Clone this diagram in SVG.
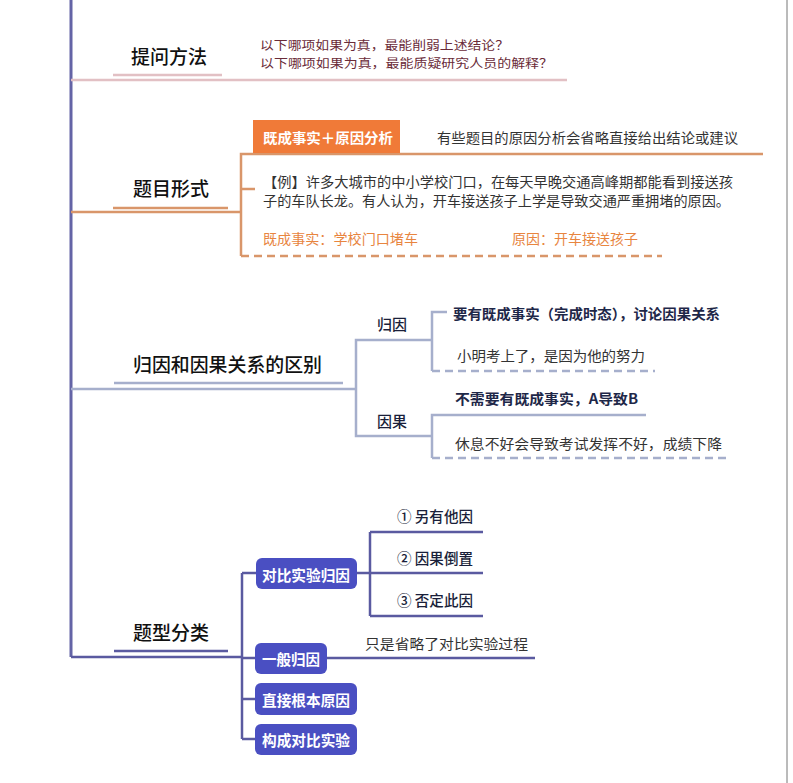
<svg xmlns="http://www.w3.org/2000/svg" width="793" height="783" viewBox="0 0 793 783">
<style>
text{font-family:"Noto Sans CJK SC","Noto Sans",sans-serif;dominant-baseline:central}
.title{font-size:19px;font-weight:500;fill:#111}
.note{font-size:14px;fill:#333}
.q{font-size:12px;fill:#6a2b38}
.or{font-size:14px;fill:#e8853f}
.bold{font-size:14px;font-weight:700;fill:#1e2748}
.sub{font-size:15px;font-weight:500;fill:#1a1f3a}
.nodet{font-size:15px;font-weight:700;fill:#fff}
.node{fill:#4a4fc2}
.pk{stroke:#e2c0c4;stroke-width:2.5;fill:none}
.orl{stroke:#d9966a;stroke-width:2.5;fill:none}
.bl{stroke:#a6afcc;stroke-width:2.5;fill:none}
.dk{stroke:#5a5aa0;stroke-width:2.5;fill:none}
.dash{stroke-dasharray:8 5}
</style>
<rect width="793" height="783" fill="#fff"/>
<g id="connectors">
  <line x1="787" y1="0" x2="787" y2="783" stroke="#777" stroke-width="1"/>
  <line x1="71" y1="0" x2="71" y2="657" stroke="#6464a6" stroke-width="3"/>
  <line class="pk" x1="113" y1="75" x2="222" y2="75" stroke="#d4b4b6"/>
  <line class="pk" x1="71" y1="80" x2="567" y2="80"/>
  <line class="orl" x1="113" y1="208" x2="228" y2="208"/>
  <line class="orl" x1="71" y1="212" x2="241" y2="212"/>
  <polyline class="orl" points="763,154 241,154 241,256"/>
  <line class="orl" x1="241" y1="189" x2="255" y2="189"/>
  <line class="orl dash" x1="241" y1="256" x2="662" y2="256"/>
  <line class="bl" x1="114" y1="383" x2="343" y2="383" stroke="#a9b3c4"/>
  <line class="bl" x1="71" y1="389" x2="356" y2="389"/>
  <polyline class="bl" points="432,340 356,340 356,436 432,436"/>
  <polyline class="bl" points="447,312 432,312 432,371"/>
  <line class="bl dash" x1="432" y1="371" x2="655" y2="371"/>
  <polyline class="bl" points="646,415 432,415 432,458"/>
  <line class="bl dash" x1="432" y1="458" x2="731" y2="458"/>
  <line class="dk" x1="114" y1="651" x2="228" y2="651"/>
  <line class="dk" x1="71" y1="657" x2="242" y2="657"/>
  <line class="dk" x1="242" y1="573" x2="242" y2="739"/>
  <line class="dk" x1="242" y1="573" x2="256" y2="573"/>
  <line class="dk" x1="242" y1="658" x2="256" y2="658"/>
  <line class="dk" x1="242" y1="699" x2="256" y2="699"/>
  <line class="dk" x1="242" y1="739" x2="256" y2="739"/>
  <line class="dk" x1="357" y1="573" x2="370" y2="573"/>
  <line class="dk" x1="370" y1="532" x2="370" y2="616"/>
  <line class="dk" x1="370" y1="532" x2="483" y2="532"/>
  <line class="dk" x1="370" y1="573" x2="483" y2="573"/>
  <line class="dk" x1="370" y1="616" x2="483" y2="616"/>
  <line class="dk" x1="327" y1="658" x2="535" y2="658"/>
</g>
<g id="n-tiwen">
  <text class="title" x="131" y="55">提问方法</text>
  <text class="q" x="260" y="44" textLength="249" lengthAdjust="spacingAndGlyphs">以下哪项如果为真，最能削弱上述结论？</text>
  <text class="q" x="260" y="62" textLength="293" lengthAdjust="spacingAndGlyphs">以下哪项如果为真，最能质疑研究人员的解释？</text>
</g>
<g id="n-timu">
  <text class="title" x="133" y="187">题目形式</text>
</g>
<g id="n-jicheng">
  <rect x="253" y="120" width="147" height="33" fill="#f07a38"/>
  <text x="263" y="137" font-size="14" font-weight="700" fill="#fff" textLength="130" lengthAdjust="spacingAndGlyphs">既成事实＋原因分析</text>
  <text class="note" x="437" y="137" textLength="301" lengthAdjust="spacingAndGlyphs">有些题目的原因分析会省略直接给出结论或建议</text>
</g>
<g id="n-example">
  <text class="note" x="263" y="180.5" font-size="12" textLength="470" lengthAdjust="spacingAndGlyphs">【例】许多大城市的中小学校门口，在每天早晚交通高峰期都能看到接送孩</text>
  <text class="note" x="263" y="199.5" font-size="12" textLength="467" lengthAdjust="spacingAndGlyphs">子的车队长龙。有人认为，开车接送孩子上学是导致交通严重拥堵的原因。</text>
  <text class="or" x="263" y="238" textLength="155" lengthAdjust="spacingAndGlyphs">既成事实：学校门口堵车</text>
  <text class="or" x="512" y="238" textLength="126" lengthAdjust="spacingAndGlyphs">原因：开车接送孩子</text>
</g>
<g id="n-qubie">
  <text class="title" x="133" y="363" textLength="189" lengthAdjust="spacingAndGlyphs">归因和因果关系的区别</text>
</g>
<g id="n-guiyin">
  <text class="sub" x="377" y="323" font-weight="400">归因</text>
  <text class="bold" x="453" y="313" textLength="267" lengthAdjust="spacingAndGlyphs">要有既成事实（完成时态），讨论因果关系</text>
  <text class="note" x="457" y="355" textLength="188" lengthAdjust="spacingAndGlyphs">小明考上了，是因为他的努力</text>
</g>
<g id="n-yinguo">
  <text class="sub" x="377" y="420" font-weight="400">因果</text>
  <text class="bold" x="455" y="398" textLength="183" lengthAdjust="spacingAndGlyphs">不需要有既成事实，A导致B</text>
  <text class="note" x="455" y="443" textLength="267" lengthAdjust="spacingAndGlyphs">休息不好会导致考试发挥不好，成绩下降</text>
</g>
<g id="n-tixing">
  <text class="title" x="133" y="631">题型分类</text>
</g>
<g id="n-duibi">
  <rect class="node" x="256" y="558" width="101" height="31" rx="6"/>
  <text class="nodet" x="262" y="574" textLength="88" lengthAdjust="spacingAndGlyphs">对比实验归因</text>
</g>
<g id="n-s1"><text class="sub" x="397" y="515" textLength="76" lengthAdjust="spacingAndGlyphs">① 另有他因</text></g>
<g id="n-s2"><text class="sub" x="397" y="557" textLength="76" lengthAdjust="spacingAndGlyphs">② 因果倒置</text></g>
<g id="n-s3"><text class="sub" x="397" y="599" textLength="76" lengthAdjust="spacingAndGlyphs">③ 否定此因</text></g>
<g id="n-yiban">
  <rect class="node" x="255" y="643" width="72" height="31" rx="6"/>
  <text class="nodet" x="262" y="658" textLength="58" lengthAdjust="spacingAndGlyphs">一般归因</text>
  <text class="note" x="365" y="643" font-size="15" textLength="163" lengthAdjust="spacingAndGlyphs">只是省略了对比实验过程</text>
</g>
<g id="n-zhijie">
  <rect class="node" x="255" y="683" width="102" height="32" rx="6"/>
  <text class="nodet" x="262" y="699" textLength="88" lengthAdjust="spacingAndGlyphs">直接根本原因</text>
</g>
<g id="n-goucheng">
  <rect class="node" x="255" y="724" width="102" height="31" rx="6"/>
  <text class="nodet" x="262" y="739" textLength="88" lengthAdjust="spacingAndGlyphs">构成对比实验</text>
</g>
</svg>
